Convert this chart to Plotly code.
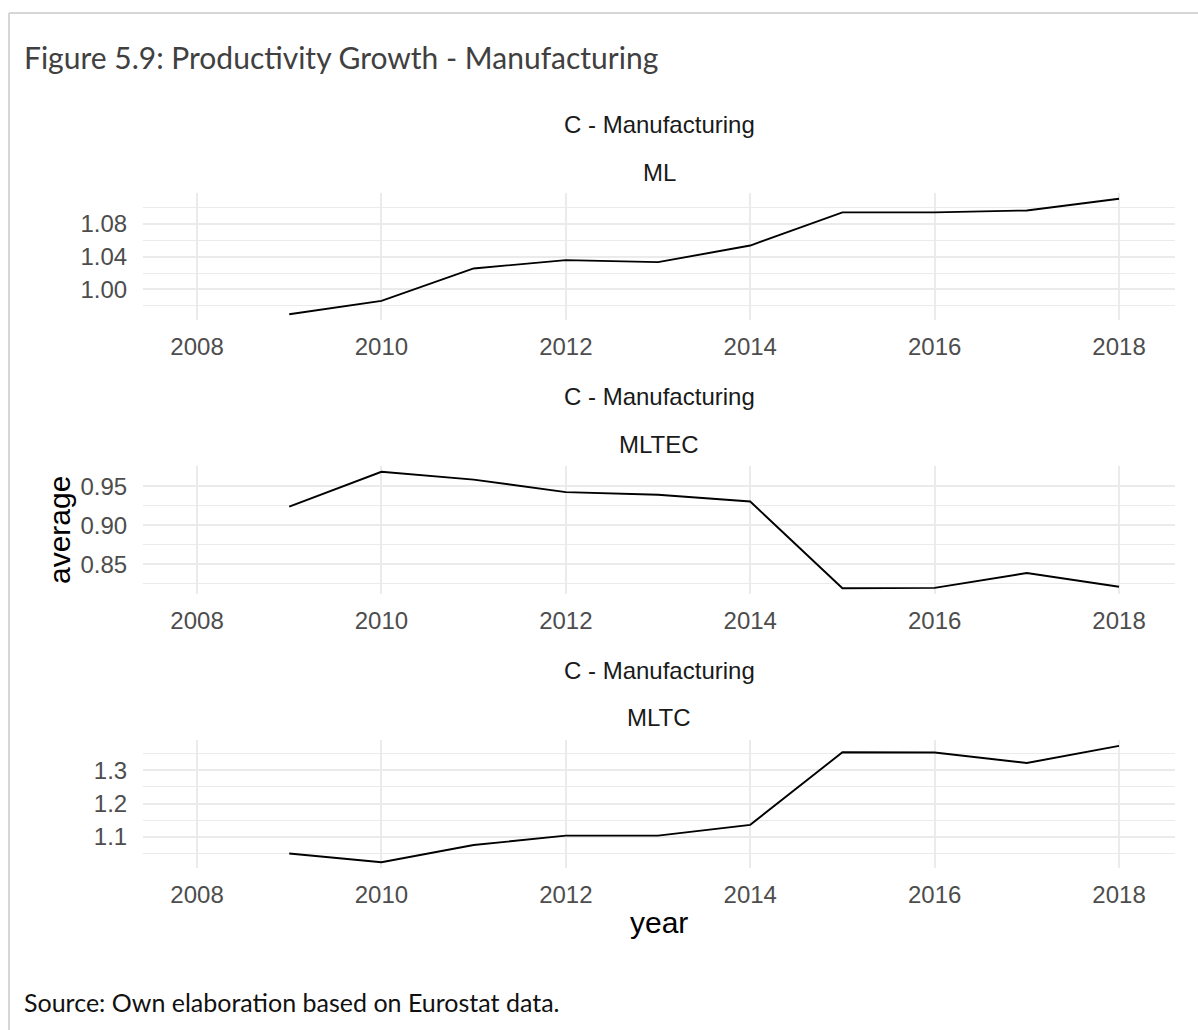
import plotly.graph_objects as go

W, H = 1198, 1030

years = [2009, 2010, 2011, 2012, 2013, 2014, 2015, 2016, 2017, 2018]
ml = [0.9695, 0.9858, 1.0256, 1.0358, 1.0333, 1.0537, 1.0943, 1.0943, 1.0967, 1.1110]
mltec = [0.9242, 0.9688, 0.9588, 0.9428, 0.9394, 0.9307, 0.8196, 0.8200, 0.8390, 0.8214]
mltc = [1.0492, 1.0228, 1.0746, 1.1030, 1.1030, 1.1356, 1.3550, 1.3540, 1.3226, 1.3744]

sector = "C - Manufacturing"
panels = ["ML", "MLTEC", "MLTC"]
series = [ml, mltec, mltc]
x_ticks = [2008, 2010, 2012, 2014, 2016, 2018]
y_ticks = [[1.00, 1.04, 1.08], [0.85, 0.90, 0.95], [1.1, 1.2, 1.3]]
y_minor = [0.02, 0.025, 0.05]
y_fmt = [".2f", ".2f", ".1f"]

def px_x(v):
    return v / W

def px_y(v):
    return 1 - v / H

# panel pixel boxes (top, bottom)
boxes = [(193, 320), (466, 594), (740, 868)]
x_left, x_right = 143, 1175
x_range = [2007.414, 2018.607]

fig = go.Figure()
grid = "#ebebeb"
tickfont = dict(family="Liberation Sans, Arial, sans-serif", size=24, color="#4d4d4d")

for i, (name, vals) in enumerate(zip(panels, series)):
    sfx = "" if i == 0 else str(i + 1)
    fig.add_trace(go.Scatter(x=years, y=vals, mode="lines",
                             line=dict(color="black", width=1.9),
                             xaxis="x" + sfx, yaxis="y" + sfx, showlegend=False))
    lo, hi = min(vals), max(vals)
    span = hi - lo
    yr = [lo - 0.05 * span, hi + 0.05 * span]
    top, bot = boxes[i]
    fig.layout["xaxis" + sfx] = dict(
        domain=[px_x(x_left), px_x(x_right)], range=x_range, anchor="y" + sfx,
        tickvals=x_ticks, showgrid=True, gridcolor=grid, gridwidth=2,
        zeroline=False, showline=False, ticks="outside", ticklen=5,
        tickcolor="rgba(0,0,0,0)", tickfont=tickfont, automargin=False)
    fig.layout["yaxis" + sfx] = dict(
        domain=[px_y(bot), px_y(top)], range=yr, anchor="x" + sfx,
        tickvals=y_ticks[i], tickformat=y_fmt[i], showgrid=True, gridcolor=grid,
        gridwidth=2, zeroline=False, showline=False, ticks="outside", ticklen=10,
        tickcolor="rgba(0,0,0,0)", tickfont=tickfont, automargin=False,
        minor=dict(dtick=y_minor[i], tick0=0, showgrid=True, gridcolor=grid, gridwidth=1))

strip_font = dict(family="Liberation Sans, Arial, sans-serif", size=24, color="#1a1a1a")
strip_pos = [(125, 172), (396, 444), (670, 717)]
annotations = []
cx = px_x((x_left + x_right) / 2)
for i, name in enumerate(panels):
    y1, y2 = strip_pos[i]
    annotations.append(dict(text=sector, x=cx, y=px_y(y1), xref="paper", yref="paper",
                            showarrow=False, xanchor="center", yanchor="middle", font=strip_font))
    annotations.append(dict(text=name, x=cx, y=px_y(y2), xref="paper", yref="paper",
                            showarrow=False, xanchor="center", yanchor="middle", font=strip_font))

axis_title_font = dict(family="Liberation Sans, Arial, sans-serif", size=30, color="black")
annotations.append(dict(text="average", x=px_x(59), y=px_y(530), xref="paper", yref="paper",
                        showarrow=False, textangle=-90, xanchor="center", yanchor="middle",
                        font=axis_title_font))
annotations.append(dict(text="year", x=cx, y=px_y(922), xref="paper", yref="paper",
                        showarrow=False, xanchor="center", yanchor="middle", font=axis_title_font))
annotations.append(dict(text="Figure 5.9: Productivity Growth - Manufacturing", x=px_x(22), y=px_y(57),
                        xref="paper", yref="paper", showarrow=False, xanchor="left", yanchor="middle",
                        font=dict(family="Lato, Open Sans, sans-serif", size=30, color="#404040")))
annotations.append(dict(text="Source: Own elaboration based on Eurostat data.", x=px_x(22), y=px_y(1002),
                        xref="paper", yref="paper", showarrow=False, xanchor="left", yanchor="middle",
                        font=dict(family="Lato, Open Sans, sans-serif", size=25, color="#111111")))

shapes = [
    dict(type="line", xref="paper", yref="paper", x0=px_x(9), x1=1, y0=px_y(13), y1=px_y(13),
         line=dict(color="#d6d6d6", width=2)),
    dict(type="line", xref="paper", yref="paper", x0=px_x(9), x1=px_x(9), y0=px_y(13), y1=0,
         line=dict(color="#d6d6d6", width=2)),
]

fig.update_layout(width=W, height=H, margin=dict(l=0, r=0, t=0, b=0),
                  paper_bgcolor="white", plot_bgcolor="white",
                  annotations=annotations, shapes=shapes, showlegend=False)

fig.write_html("out.html")
